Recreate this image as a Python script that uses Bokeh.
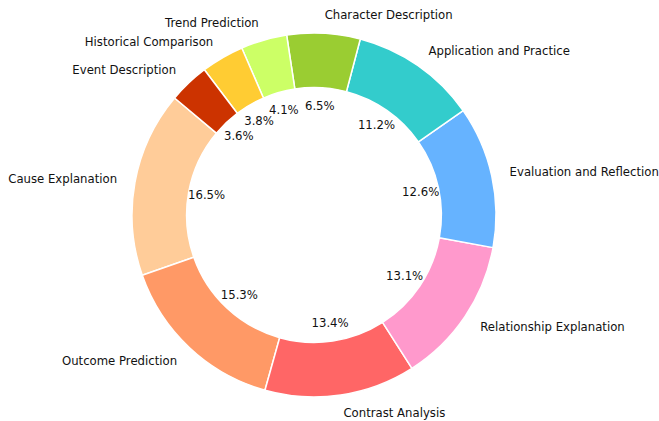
import math
import pandas as pd
from bokeh.plotting import figure
from bokeh.models import ColumnDataSource
from bokeh.core.properties import value
from bokeh.embed import file_html
from bokeh.resources import INLINE

categories = ["Cause Explanation", "Outcome Prediction", "Contrast Analysis",
              "Relationship Explanation", "Evaluation and Reflection",
              "Application and Practice", "Character Description",
              "Trend Prediction", "Historical Comparison", "Event Description"]
shares = [16.5, 15.3, 13.4, 13.1, 12.6, 11.2, 6.5, 4.1, 3.8, 3.6]
colors = ["#ffcc99", "#ff9966", "#ff6666", "#ff99cc", "#66b3ff",
          "#33cccc", "#9acd32", "#ccff66", "#ffcc33", "#cc3300"]

start_deg = 140
R = 182
inner = 0.7 * R

df = pd.DataFrame({"cat": categories, "val": shares, "color": colors})
total = df["val"].sum()
frac = df["val"] / total * 2 * math.pi
df["end"] = frac.cumsum() + math.radians(start_deg)
df["start"] = df["end"] - frac
df["mid"] = (df["start"] + df["end"]) / 2
df["pct"] = [f"{v:.1f}%" for v in df["val"]]
df["px"] = 0.6 * R * df["mid"].apply(math.cos)
df["py"] = 0.6 * R * df["mid"].apply(math.sin)
df["lx"] = 1.1 * R * df["mid"].apply(math.cos)
df["ly"] = 1.1 * R * df["mid"].apply(math.sin)
df["align"] = ["left" if x > 0 else "right" for x in df["lx"]]

src = ColumnDataSource(df)

W, H = 659, 421
cx_page, cy_page = 313.5, 214.5
x0 = -cx_page
y1 = cy_page

p = figure(width=W, height=H, output_backend="svg", toolbar_location=None,
           x_range=(x0, x0 + W), y_range=(y1 - H, y1), min_border=0,
           match_aspect=False)
p.axis.visible = False
p.grid.visible = False
p.outline_line_color = None
p.background_fill_color = "white"

p.annular_wedge(x=0, y=0, inner_radius=inner, outer_radius=R,
                start_angle="start", end_angle="end", fill_color="color",
                line_color="white", line_width=1.5, source=src)

p.text(x="px", y="py", text="pct", text_align="center", text_baseline="middle",
       text_font=value("DejaVu Sans"), text_font_size="11.7px",
       text_color="#111111", source=src)

p.text(x="lx", y="ly", text="cat", text_align="align", text_baseline="middle",
       text_font=value("DejaVu Sans"), text_font_size="11.7px",
       text_color="#111111", source=src)

open("out.html", "w").write(file_html(p, INLINE))
